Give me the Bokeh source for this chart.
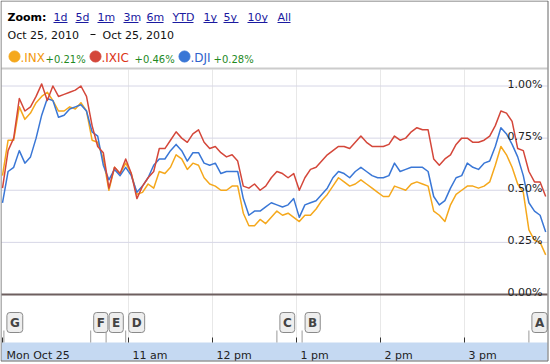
from bokeh.plotting import figure
from bokeh.models import Range1d, Label
from bokeh.embed import file_html
from bokeh.resources import INLINE
from bokeh.core.properties import value

# ---------------- data ----------------
# minutes after the 9:30 open, one reading every 4 minutes
times = list(range(0, 392, 4))

inx = [0.57, 0.74, 0.74, 0.90, 0.84, 0.87, 0.92, 0.95, 0.97, 0.93,
       0.88, 0.88, 0.90, 0.89, 0.92, 0.88, 0.74, 0.73, 0.65, 0.50,
       0.61, 0.58, 0.63, 0.58, 0.48, 0.49, 0.53, 0.51, 0.59, 0.58,
       0.61, 0.67, 0.65, 0.60, 0.63, 0.62, 0.56, 0.53, 0.52, 0.50,
       0.50, 0.52, 0.52, 0.39, 0.33, 0.33, 0.36, 0.34, 0.37, 0.40,
       0.38, 0.39, 0.37, 0.35, 0.38, 0.38, 0.41, 0.45, 0.48, 0.52,
       0.56, 0.54, 0.52, 0.53, 0.55, 0.53, 0.51, 0.49, 0.47, 0.47,
       0.52, 0.51, 0.50, 0.53, 0.54, 0.53, 0.52, 0.40, 0.38, 0.35,
       0.43, 0.48, 0.50, 0.52, 0.52, 0.51, 0.52, 0.54, 0.62, 0.71,
       0.67, 0.61, 0.53, 0.49, 0.31, 0.26, 0.25, 0.19]

ixic = [0.51, 0.69, 0.75, 0.94, 0.88, 0.90, 0.95, 1.01, 0.93, 1.00,
        0.95, 0.96, 0.97, 0.98, 1.00, 0.95, 0.81, 0.71, 0.68, 0.51,
        0.61, 0.58, 0.65, 0.58, 0.46, 0.52, 0.56, 0.59, 0.70, 0.70,
        0.74, 0.78, 0.75, 0.73, 0.77, 0.79, 0.73, 0.70, 0.71, 0.68,
        0.66, 0.67, 0.64, 0.52, 0.51, 0.53, 0.50, 0.52, 0.56, 0.59,
        0.58, 0.56, 0.58, 0.50, 0.56, 0.60, 0.61, 0.64, 0.67, 0.69,
        0.71, 0.71, 0.70, 0.73, 0.76, 0.73, 0.71, 0.71, 0.71, 0.72,
        0.76, 0.74, 0.75, 0.78, 0.80, 0.79, 0.79, 0.65, 0.62, 0.65,
        0.67, 0.72, 0.75, 0.75, 0.73, 0.73, 0.74, 0.76, 0.81, 0.88,
        0.87, 0.83, 0.70, 0.69, 0.59, 0.54, 0.54, 0.47]

dji = [0.44, 0.59, 0.61, 0.69, 0.63, 0.66, 0.75, 0.86, 0.94, 0.93,
       0.85, 0.86, 0.89, 0.90, 0.91, 0.88, 0.78, 0.76, 0.62, 0.55,
       0.60, 0.57, 0.61, 0.57, 0.49, 0.52, 0.56, 0.62, 0.65, 0.65,
       0.69, 0.72, 0.69, 0.64, 0.68, 0.68, 0.63, 0.62, 0.63, 0.58,
       0.59, 0.59, 0.59, 0.46, 0.38, 0.40, 0.40, 0.42, 0.44, 0.43,
       0.42, 0.43, 0.46, 0.37, 0.43, 0.44, 0.45, 0.48, 0.51, 0.56,
       0.59, 0.58, 0.56, 0.59, 0.61, 0.59, 0.57, 0.56, 0.56, 0.57,
       0.63, 0.59, 0.60, 0.61, 0.61, 0.61, 0.59, 0.47, 0.43, 0.45,
       0.51, 0.56, 0.57, 0.63, 0.61, 0.60, 0.63, 0.64, 0.71, 0.80,
       0.77, 0.72, 0.66, 0.57, 0.44, 0.40, 0.38, 0.30]

series_names = [".INX", ".IXIC", ".DJI"]
series_changes = ["+0.21%", "+0.46%", "+0.28%"]

y_ticks = [0.0, 0.25, 0.5, 0.75, 1.0]
y_tick_labels = ["0.00%", "0.25%", "0.50%", "0.75%", "1.00%"]

hour_ticks = [0, 90, 150, 210, 270, 330]
hour_labels = ["Mon Oct 25", "11 am", "12 pm", "1 pm", "2 pm", "3 pm"]

event_letters = ["G", "F", "E", "D", "C", "B", "A"]
event_times = [1, 63, 74, 88, 196, 214, 376]

zoom_links = ["1d", "5d", "1m", "3m", "6m", "YTD", "1y", "5y", "10y", "All"]
date_from = "Oct 25, 2010"
date_to = "Oct 25, 2010"

# ---------------- styling / layout ----------------
W, H = 550, 364
FONT = "DejaVu Sans"
C_INX, C_IXIC, C_DJI = "#f5a81c", "#d4473a", "#3a77d6"
C_INX_T, C_IXIC_T, C_DJI_T = "#f39a0f", "#dc3517", "#2f62cc"


def X(px):  # canvas pixel -> minutes
    return (px - 2) / 1.4


def Y(py):  # canvas pixel (from top) -> percent
    return (294 - py) / 208.5


p = figure(width=W, height=H, x_range=Range1d(X(0), X(W)), y_range=Range1d(Y(H), Y(0)),
           min_border=0, toolbar_location=None, output_backend="svg",
           x_axis_location=None, y_axis_location=None)
for g in p.grid:
    g.visible = False
p.outline_line_color = None
p.background_fill_color = "white"
p.border_fill_color = "white"

# bottom time band
p.quad(left=[X(1)], right=[X(547)], bottom=[Y(360)], top=[Y(342)],
       fill_color="#c5d9f2", line_color=None)

# vertical hour grid lines (not at open)
p.segment(x0=hour_ticks[1:], x1=hour_ticks[1:], y0=[Y(69)] * 5, y1=[Y(340)] * 5,
          line_color="#e8e8e8", line_width=1)

# horizontal grid lines
p.segment(x0=[X(1)] * 4, x1=[X(547)] * 4, y0=y_ticks[1:], y1=y_ticks[1:],
          line_color="#d6d6e6", line_width=1)
p.segment(x0=[X(1)], x1=[X(547)], y0=y_ticks[:1], y1=y_ticks[:1],
          line_color="#6d5f5f", line_width=2)

# top chart border
p.segment(x0=[X(1)], x1=[X(547)], y0=[Y(68)], y1=[Y(68)], line_color="#cccccc", line_width=2)

# series lines
p.line(times, inx, line_color=C_INX, line_width=1.5, line_join="round")
p.line(times, dji, line_color=C_DJI, line_width=1.5, line_join="round")
p.line(times, ixic, line_color=C_IXIC, line_width=1.5, line_join="round")

# y labels (inside, right aligned)
p.text(x=[X(542)] * 5, y=y_ticks, text=y_tick_labels, text_align="right",
       text_baseline="alphabetic", y_offset=-2, text_font=value(FONT),
       text_font_size="11px", text_color="#222222")

# time ticks and labels
p.segment(x0=hour_ticks, x1=hour_ticks, y0=[Y(337)] * 6, y1=[Y(342)] * 6,
          line_color="#333333", line_width=1)
p.text(x=hour_ticks, y=[Y(355)] * 6, text=hour_labels, text_align="left",
       text_baseline="alphabetic", x_offset=4, text_font=value(FONT),
       text_font_size="11px", text_color="#222222")

# event flags
p.segment(x0=event_times, x1=event_times, y0=[Y(330)] * 7, y1=[Y(342)] * 7,
          line_color="#9a9a9a", line_width=1)
p.text(x=event_times, y=[Y(322)] * 7, text=event_letters, text_align="left",
       text_baseline="middle", x_offset=3, text_font=value(FONT), text_font_size="12px",
       text_font_style="bold", text_color="#444444",
       background_fill_color="#eeeeee", border_line_color="#8a8a8a",
       padding=3, border_radius=3)

# outer border
p.quad(left=[X(0.5)], right=[X(547.5)], bottom=[Y(360.5)], top=[Y(0.5)],
       fill_color=None, line_color="#666666", line_width=1)

# ---------------- header ----------------
def lab(x, y, text, size="11px", color="#111111", style="normal"):
    # y is the bottom of the text box (baseline + descent)
    p.add_layout(Label(x=X(x), y=Y(y), text=text, text_font=FONT, text_font_size=size,
                       text_font_style=style, text_color=color))


lab(7, 23, "Zoom:", color="#000000", style="bold")
link_lefts = [53, 75, 97, 123, 146, 172, 203, 223, 247, 277]
link_rights = [67, 88, 113, 138, 163, 193, 217, 238, 267, 290]
for name, l in zip(zoom_links, link_lefts):
    lab(l, 23, name, color="#1a1aa0")
p.segment(x0=[X(l) for l in link_lefts], x1=[X(r) for r in link_rights],
          y0=[Y(22)] * 10, y1=[Y(22)] * 10, line_color="#1a1aa0", line_width=1)

lab(7, 41, date_from)
p.segment(x0=[X(90)], x1=[X(95)], y0=[Y(34)], y1=[Y(34)], line_color="#111111", line_width=1)
lab(102, 41, date_to)

# legend
dot_x = [14, 95, 184]
name_x = [20, 101, 190]
chg_x = [45, 134, 213]
colors = [C_INX, C_IXIC, C_DJI]
tcolors = [C_INX_T, C_IXIC_T, C_DJI_T]
p.scatter(x=[X(d) for d in dot_x], y=[Y(56)] * 3, size=11, marker="circle",
          fill_color=colors, line_color=colors)
for nm, ch, nx, cx, tc in zip(series_names, series_changes, name_x, chg_x, tcolors):
    lab(nx, 64, nm, size="12px", color=tc)
    lab(cx, 64, ch, size="10px", color="#1f8a1f")

open("out.html", "w").write(file_html(p, INLINE))
